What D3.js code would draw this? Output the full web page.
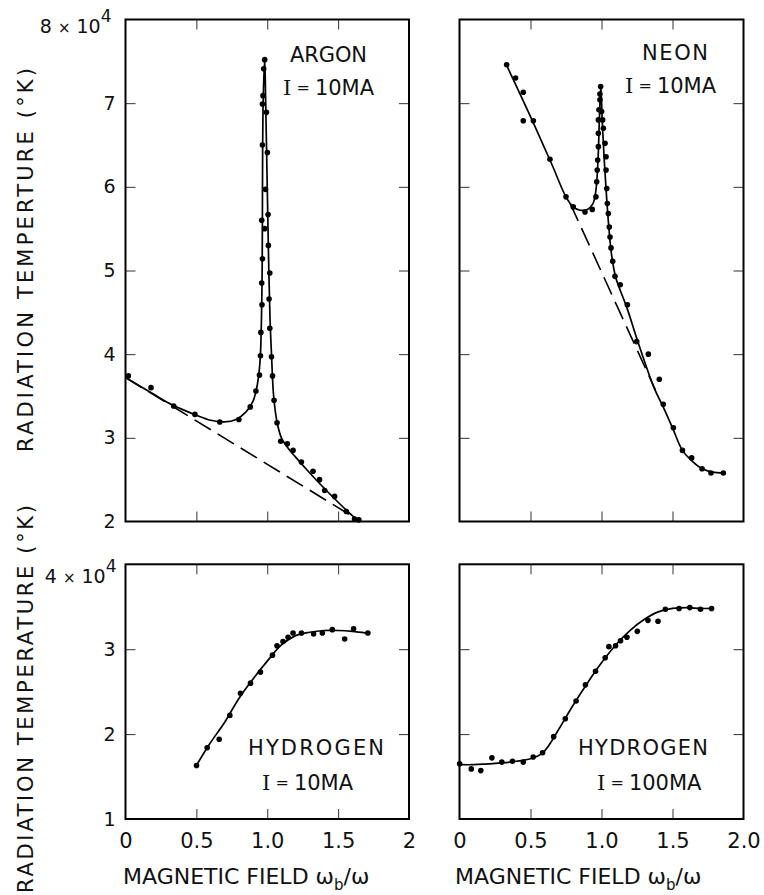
<!DOCTYPE html>
<html><head><meta charset="utf-8">
<script src="https://cdn.jsdelivr.net/npm/d3@7/dist/d3.min.js"></script>
<style>body{margin:0;background:#fff}svg{display:block}text{font-family:"DejaVu Sans",sans-serif;fill:#111}</style>
</head><body>
<script>
// ---------- DATA (temperature in units of 10^4 K, field as wb/w) ----------
const argonPoints = [[0.02,3.74],[0.18,3.60],[0.34,3.38],[0.49,3.28],[0.665,3.19],[0.80,3.22],[0.88,3.37],[0.92,3.56],[0.945,3.75],[0.952,3.98],[0.955,4.26],[0.963,4.59],[0.961,4.85],[0.966,5.14],[0.961,5.60],[0.966,6.50],[0.966,6.99],[0.970,7.09],[0.975,7.41],[0.982,7.52],[0.982,5.50],[0.987,5.97],[0.994,6.89],[1.001,6.41],[1.006,5.67],[1.008,5.30],[1.018,4.97],[1.013,4.66],[1.018,4.31],[1.030,3.97],[1.037,3.74],[1.048,3.45],[1.069,3.18],[1.095,2.96],[1.142,2.93],[1.182,2.85],[1.241,2.71],[1.323,2.60],[1.369,2.50],[1.405,2.37],[1.475,2.30],[1.558,2.12],[1.616,2.03],[1.646,2.02]];
const argonCurve = [[0,3.72],[0.1,3.62],[0.2,3.52],[0.3,3.42],[0.4,3.34],[0.5,3.27],[0.6,3.21],[0.7,3.19],[0.78,3.22],[0.85,3.31],[0.9,3.44],[0.92,3.55],[0.94,3.75],[0.952,4.0],[0.96,4.5],[0.964,5.0],[0.971,7.0],[0.982,7.52],[0.989,7.0],[1.0,6.0],[1.011,5.0],[1.02,4.4],[1.03,4.0],[1.045,3.5],[1.07,3.18],[1.1,3.0],[1.15,2.87],[1.2,2.77],[1.3,2.58],[1.4,2.40],[1.5,2.23],[1.6,2.07],[1.65,2.0]];
const argonDashed = [[0,3.72],[1.66,2.0]];

const neonPoints = [[0.332,7.46],[0.395,7.30],[0.449,7.13],[0.449,6.79],[0.52,6.79],[0.637,6.33],[0.75,5.88],[0.801,5.76],[0.884,5.70],[0.935,5.73],[0.961,5.88],[0.966,6.06],[0.970,6.20],[0.973,6.32],[0.978,6.48],[0.978,6.64],[0.978,6.80],[0.982,6.92],[0.989,7.04],[0.989,7.11],[0.994,7.20],[1.001,6.90],[1.008,6.80],[1.013,6.70],[1.025,6.52],[1.032,6.36],[1.032,6.20],[1.037,5.98],[1.041,5.80],[1.048,5.68],[1.055,5.52],[1.060,5.40],[1.067,5.27],[1.079,5.11],[1.095,4.93],[1.132,4.83],[1.182,4.59],[1.248,4.15],[1.330,4.00],[1.407,3.70],[1.435,3.40],[1.506,3.12],[1.57,2.85],[1.635,2.76],[1.708,2.63],[1.771,2.58],[1.858,2.58]];
const neonCurve = [[0.33,7.46],[0.5,6.84],[0.65,6.27],[0.75,5.88],[0.8,5.76],[0.85,5.72],[0.9,5.73],[0.94,5.80],[0.96,5.95],[0.975,6.3],[0.985,6.8],[0.995,7.2],[1.005,6.8],[1.02,6.3],[1.035,5.9],[1.05,5.55],[1.07,5.2],[1.1,4.92],[1.18,4.55],[1.25,4.18],[1.37,3.6],[1.44,3.35],[1.5,3.12],[1.57,2.85],[1.64,2.72],[1.71,2.63],[1.78,2.59],[1.86,2.58]];
const neonDashed = [[0.78,5.80],[1.38,3.57]];

const h10Points = [[0.501,1.63],[0.576,1.84],[0.661,1.94],[0.736,2.22],[0.811,2.48],[0.882,2.60],[0.952,2.73],[1.037,2.93],[1.069,3.04],[1.111,3.09],[1.147,3.14],[1.182,3.19],[1.241,3.19],[1.327,3.18],[1.389,3.19],[1.459,3.23],[1.546,3.12],[1.609,3.24],[1.71,3.19]];
const h10Curve = [[0.5,1.63],[0.6,1.90],[0.7,2.14],[0.8,2.42],[0.9,2.65],[1.0,2.86],[1.1,3.05],[1.2,3.16],[1.3,3.20],[1.4,3.22],[1.5,3.22],[1.6,3.21],[1.7,3.19]];

const h100Points = [[0.001,1.65],[0.083,1.59],[0.15,1.57],[0.228,1.72],[0.298,1.67],[0.373,1.68],[0.449,1.67],[0.519,1.73],[0.585,1.78],[0.663,1.97],[0.745,2.18],[0.821,2.39],[0.887,2.58],[0.958,2.74],[1.026,2.90],[1.052,3.03],[1.099,3.04],[1.134,3.10],[1.179,3.14],[1.252,3.21],[1.327,3.34],[1.398,3.33],[1.450,3.47],[1.546,3.48],[1.622,3.49],[1.697,3.47],[1.775,3.48]];
const h100Curve = [[0,1.64],[0.1,1.64],[0.2,1.65],[0.3,1.66],[0.4,1.68],[0.5,1.71],[0.58,1.77],[0.63,1.87],[0.7,2.06],[0.8,2.34],[0.9,2.60],[1.0,2.84],[1.1,3.05],[1.2,3.22],[1.3,3.35],[1.4,3.44],[1.5,3.48],[1.6,3.49],[1.7,3.48],[1.78,3.48]];

const xTicks = [0.5, 1.0, 1.5];
const xLabelValues = [0, 0.5, 1.0, 1.5, 2.0];
const xLabelsLeft = ["0", "0.5", "1.0", "1.5", "2"];
const xLabelsRight = ["0", "0.5", "1.0", "1.5", "2.0"];
const yTopTicks = [3, 4, 5, 6, 7];
const yTopLabels = [2, 3, 4, 5, 6, 7, 8];
const yBottomTicks = [2, 3];
const yBottomLabels = [1, 2, 3, 4];

// ---------- LAYOUT ----------
const svg = d3.select("body").append("svg").attr("width", 764).attr("height", 895);
const colX = [[125.5, 409], [459.5, 743.5]];
const rowY = [[19.5, 521.5], [564.3, 819]];
const FONT = '"DejaVu Sans",sans-serif';

function panel(col, row, yDom, yTicks, points, curve, dashed) {
  const [x0, x1] = colX[col], [y0, y1] = rowY[row];
  const x = d3.scaleLinear().domain([0, 2]).range([x0, x1]);
  const y = d3.scaleLinear().domain(yDom).range([y1, y0]);
  const g = svg.append("g");
  const tick = (axis, tr) => g.append("g").attr("transform", tr).call(axis)
      .call(s => { s.select(".domain").remove(); s.selectAll("line").attr("stroke", "#333").attr("stroke-width", 1); s.selectAll("text").remove(); });
  tick(d3.axisBottom(x).tickValues(xTicks).tickSize(-10), `translate(0,${y1})`);
  tick(d3.axisTop(x).tickValues(xTicks).tickSize(-10), `translate(0,${y0})`);
  tick(d3.axisLeft(y).tickValues(yTicks).tickSize(-10), `translate(${x0},0)`);
  tick(d3.axisRight(y).tickValues(yTicks).tickSize(-10), `translate(${x1},0)`);
  g.append("rect").attr("x", x0).attr("y", y0).attr("width", x1 - x0).attr("height", y1 - y0)
    .attr("fill", "none").attr("stroke", "#000").attr("stroke-width", 2);
  if (dashed) g.append("path").attr("d", d3.line()(dashed.map(d => [x(d[0]), y(d[1])])))
    .attr("fill", "none").attr("stroke", "#000").attr("stroke-width", 1.6).attr("stroke-dasharray", "19,8");
  g.append("path").attr("d", d3.line().curve(d3.curveCatmullRom.alpha(0.5))(curve.map(d => [x(d[0]), y(d[1])])))
    .attr("fill", "none").attr("stroke", "#000").attr("stroke-width", 1.7);
  g.selectAll("circle").data(points).join("circle")
    .attr("cx", d => x(d[0])).attr("cy", d => y(d[1])).attr("r", 2.8).attr("fill", "#000");
  return {x, y, g};
}

const pA = panel(0, 0, [2, 8], yTopTicks, argonPoints, argonCurve, argonDashed);
const pN = panel(1, 0, [2, 8], yTopTicks, neonPoints, neonCurve, neonDashed);
const pH1 = panel(0, 1, [1, 4], yBottomTicks, h10Points, h10Curve, null);
const pH2 = panel(1, 1, [1, 4], yBottomTicks, h100Points, h100Curve, null);

// y tick labels
function yLabels(p, vals, top, topOffset, topX) {
  const ax = svg.append("g").attr("transform", `translate(${colX[0][0]},0)`)
    .call(d3.axisLeft(p.y).tickValues(vals).tickSize(0).tickPadding(10).tickFormat(d3.format("d")));
  ax.select(".domain").remove();
  ax.selectAll("text").style("font-size", "19px").style("font-family", FONT).attr("fill", "#111");
  ax.selectAll(".tick text").filter(d => d === top)
    .text(null).style("font-size", "19px").attr("y", topOffset).attr("x", topX)
    .call(t => {
      t.append("tspan").text(top + " ");
      t.append("tspan").style("font-size", "15px").text("×");
      t.append("tspan").text(" 10");
      t.append("tspan").style("font-size", "17px").attr("dy", "-0.65em").text("4");
    });
}
yLabels(pA, yTopLabels, 8, 7, -14);
yLabels(pH1, yBottomLabels, 4, 12, -9);

// x tick labels
function xLabels(p, labels) {
  const ax = svg.append("g").attr("transform", `translate(0,${rowY[1][1]})`)
    .call(d3.axisBottom(p.x).tickValues(xLabelValues).tickSize(0).tickPadding(14)
      .tickFormat((d, i) => labels[i]));
  ax.select(".domain").remove();
  ax.selectAll("text").style("font-size", "21px").style("font-family", FONT).attr("fill", "#111");
}
xLabels(pH1, xLabelsLeft);
xLabels(pH2, xLabelsRight);

// axis titles
function xTitle(x) {
  const t = svg.append("text").attr("x", x).attr("y", 884).style("font-size", "22px");
  t.append("tspan").text("MAGNETIC FIELD ω");
  t.append("tspan").style("font-size", "15px").attr("dy", 6).text("b");
  t.append("tspan").attr("dy", -6).text("/ω");
}
xTitle(123);
xTitle(455);

svg.append("text").attr("transform", "translate(33,260) rotate(-90)").attr("text-anchor", "middle")
  .style("font-size", "21px").attr("textLength", 384).attr("lengthAdjust", "spacing").text("RADIATION TEMPERTURE (°K)");
svg.append("text").attr("transform", "translate(33,699) rotate(-90)").attr("text-anchor", "middle")
  .style("font-size", "21px").attr("textLength", 388).attr("lengthAdjust", "spacing").text("RADIATION TEMPERATURE (°K)");

// panel annotations
function label(x, y, txt, len) {
  svg.append("text").attr("x", x).attr("y", y).style("font-size", "21px")
    .attr("textLength", len).attr("lengthAdjust", "spacing").text(txt);
}
function current(x, y, val) {
  const t = svg.append("text").attr("x", x).attr("y", y).style("font-size", "21px");
  t.append("tspan").style("font-family", '"DejaVu Serif",serif').text("I");
  t.append("tspan").style("font-size", "16px").attr("dy", -2).text(" = ");
  t.append("tspan").attr("dy", 2).text(val);
}
label(290, 62, "ARGON", 77);
current(283, 95, "10MA");
label(642, 60, "NEON", 66);
current(625, 93, "10MA");
label(248, 755, "HYDROGEN", 136);
current(262, 790, "10MA");
label(578, 755, "HYDROGEN", 130);
current(597, 790, "100MA");
</script>
</body></html>
